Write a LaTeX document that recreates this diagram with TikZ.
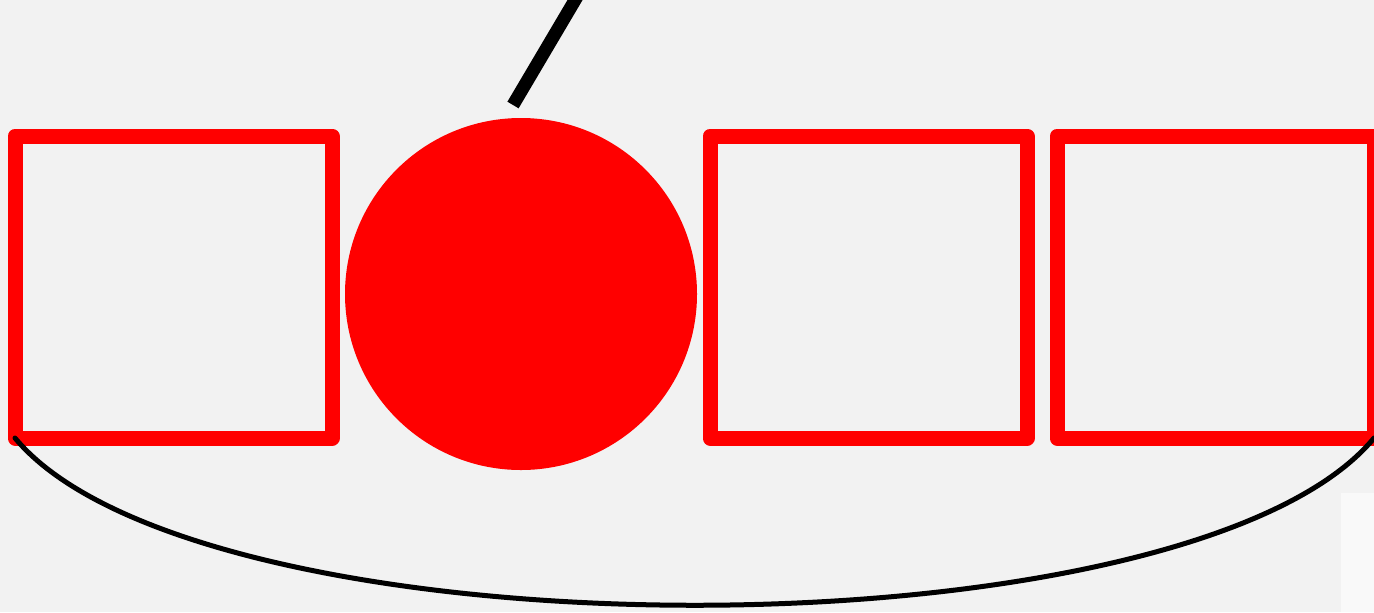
\documentclass[tikz,border=0pt]{standalone}
\usepackage{tikz}
\usetikzlibrary{positioning}
\definecolor{paper}{HTML}{F2F2F2}
\definecolor{paperlight}{HTML}{F9F9F9}
\definecolor{signal}{HTML}{FF0000}
\tikzset{
  frame/.style={draw=signal, line width=7.5pt, line join=round, minimum width=158.5pt, minimum height=151pt, inner sep=0pt, outer sep=0pt},
  ball/.style={circle, fill=signal, minimum size=176pt, inner sep=0pt, outer sep=0pt},
  stem/.style={draw, line width=6.5pt, black},
  loop/.style={draw, line width=2.5pt, black, line cap=round}
}

\begin{document}
\begin{tikzpicture}[x=0.5pt, y=-0.5pt]
\useasboundingbox (0,0) rectangle (1374,612);
\clip (0,0) rectangle (1374,612);
\fill[paper] (0,0) rectangle (1374,612);
\fill[paperlight] (1341,493) rectangle (1374,612);
% row of boxes with the ball
\node[frame] (box1) at (173.5,287) {};
\node[ball] (ball) at (521,294) {};
\node[frame, right=189pt of box1] (box2) {};
\node[frame, right=15pt of box2] (box3) {};
% stem above the ball
\coordinate (stem top) at (578,-5);
\coordinate (stem end) at (513,105);
\draw[stem] (stem end) -- (stem top);
% loop under the row
\draw[loop] (box1.south west) .. controls (200,661) and (1190,661) .. (box3.south east);
\end{tikzpicture}
\end{document}
